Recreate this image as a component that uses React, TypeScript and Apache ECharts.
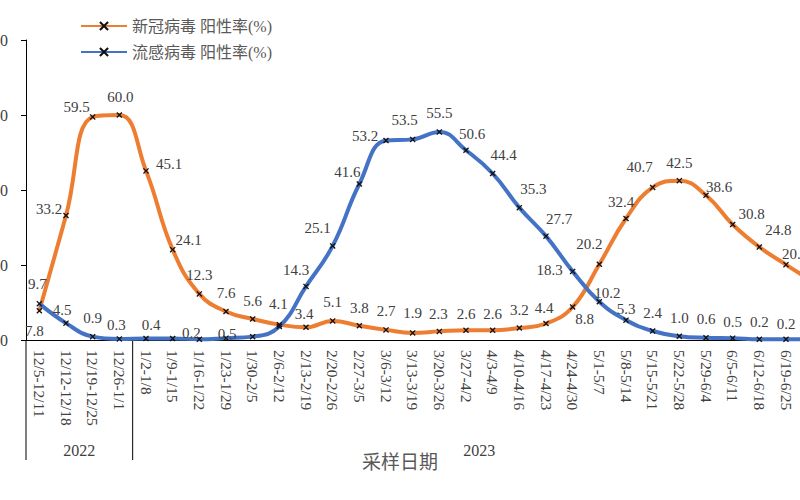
import React, { useEffect, useRef } from "react";
import * as echarts from "echarts";

const categories = [
  "12/5-12/11", "12/12-12/18", "12/19-12/25", "12/26-1/1",
  "1/2-1/8", "1/9-1/15", "1/16-1/22", "1/23-1/29", "1/30-2/5",
  "2/6-2/12", "2/13-2/19", "2/20-2/26", "2/27-3/5", "3/6-3/12",
  "3/13-3/19", "3/20-3/26", "3/27-4/2", "4/3-4/9", "4/10-4/16",
  "4/17-4/23", "4/24-4/30", "5/1-5/7", "5/8-5/14", "5/15-5/21",
  "5/22-5/28", "5/29-6/4", "6/5-6/11", "6/12-6/18", "6/19-6/25", "6/26-7/2",
];

const covidRate = [
  7.8, 33.2, 59.5, 60.0, 45.1, 24.1, 12.3, 7.6, 5.6, 4.1,
  3.4, 5.1, 3.8, 2.7, 1.9, 2.3, 2.6, 2.6, 3.2, 4.4,
  8.8, 20.2, 32.4, 40.7, 42.5, 38.6, 30.8, 24.8, 20.1, 15.5,
];

const fluRate = [
  9.7, 4.5, 0.9, 0.3, 0.4, 0.4, 0.2, 0.5, 0.9, 3.6,
  14.3, 25.1, 41.6, 53.2, 53.5, 55.5, 50.6, 44.4, 35.3, 27.7,
  18.3, 10.2, 5.3, 2.4, 1.0, 0.6, 0.5, 0.2, 0.2, 0.2,
];

const yTicks = [0, 20, 40, 60, 80];

const yearGroups = [
  { label: "2022", from: 0, to: 3 },
  { label: "2023", from: 4, to: 29 },
];

const seriesNames = ["新冠病毒 阳性率(%)", "流感病毒 阳性率(%)"];
const xAxisTitle = "采样日期";

// label placement tweaks (layout only), null = label hidden
const covidLabelOffsets: ([number, number] | null)[] = [
  [-5, 39], [-17, 12], [-16, 9], [1, 0], [23, 12], [16, 9], [0, 0], [0, 0], [0, 0], [-1, -2],
  [-2, 5], [0, 0], [0, 1], [0, 0], [0, -1], [-1, 1], [0, 2], [0, 2], [0, 0], [-2, 3],
  [12, 30], [-10, -2], [-5, 2], [-13, -2], [0, 1], [13, 10], [19, 8], [19, 1], [9, 8], null,
];
const fluLabelOffsets: ([number, number] | null)[] = [
  [-2, -1], [-4, 5], [0, 0], [-3, 5], [5, 5], null, [-8, 12], [1, 14], null, null,
  [-10, 2], [-15, 1], [-12, 6], [-21, 14], [-8, -1], [0, 0], [6, 2], [11, 0], [14, 0], [13, 1],
  [-23, 17], [8, 10], [0, 7], [0, 0], [0, 0], [0, 0], [0, 2], [0, 1], [0, 3], null,
];

const SERIF = "'Liberation Serif', 'Noto Sans CJK SC', serif";
const CROSS = "path://M0,1.5L1.5,0L5,3.5L8.5,0L10,1.5L6.5,5L10,8.5L8.5,10L5,6.5L1.5,10L0,8.5L3.5,5Z";

function buildData(values: number[], offsets: ([number, number] | null)[]) {
  return values.map((v, i) => {
    const off = offsets[i];
    return {
      value: v,
      label: off ? { show: true, offset: off } : { show: false },
    };
  });
}

export default function App() {
  const ref = useRef<HTMLDivElement>(null);

  useEffect(() => {
    if (!ref.current) return;
    const chart = echarts.init(ref.current, undefined, { renderer: "svg" });

    const lineSeries = (name: string, values: number[], offsets: any[], color: string) => ({
      name,
      type: "line",
      smooth: 0.45,
      data: buildData(values, offsets),
      symbol: CROSS,
      symbolSize: 6,
      showAllSymbol: true,
      lineStyle: { color, width: 4 },
      itemStyle: { color: "#111", borderWidth: 0 },
      label: {
        show: true,
        position: "top",
        distance: 8,
        fontFamily: SERIF,
        fontSize: 15,
        color: "#404040",
        formatter: (p: any) => Number(p.value).toFixed(1),
      },
      emphasis: { disabled: true },
    });

    chart.setOption({
      animation: false,
      backgroundColor: "#ffffff",
      legend: {
        orient: "vertical",
        left: 75,
        top: 13,
        itemWidth: 46,
        itemHeight: 12,
        itemGap: 10,
        textStyle: { fontFamily: SERIF, fontSize: 16, color: "#595959" },
        data: seriesNames,
      },
      grid: {
        left: 26,
        top: 40,
        width: 800,
        height: 300,
        containLabel: false,
        outerBoundsMode: "none",
      },
      xAxis: {
        type: "category",
        data: categories,
        boundaryGap: true,
        axisLine: { lineStyle: { color: "#000", width: 1 } },
        axisTick: { show: false },
        axisLabel: {
          rotate: -90,
          interval: 0,
          margin: 10,
          fontFamily: SERIF,
          fontSize: 15.5,
          color: "#404040",
        },
      },
      yAxis: {
        type: "value",
        min: yTicks[0],
        max: yTicks[yTicks.length - 1],
        interval: yTicks[1] - yTicks[0],
        splitLine: { show: false },
        axisLine: { show: true, lineStyle: { color: "#000", width: 1 } },
        axisTick: { show: true, length: 5, lineStyle: { color: "#000" } },
        axisLabel: {
          margin: 18,
          fontFamily: SERIF,
          fontSize: 16,
          color: "#404040",
        },
      },
      series: [
        lineSeries(seriesNames[0], covidRate, covidLabelOffsets, "#ED7D31"),
        lineSeries(seriesNames[1], fluRate, fluLabelOffsets, "#4472C4"),
      ],
    });

    // year group separators and labels under the category axis
    const px = (i: number) => chart.convertToPixel({ xAxisIndex: 0 }, categories[i]) as number;
    const step = px(1) - px(0);
    const axisY = chart.convertToPixel({ yAxisIndex: 0 }, 0) as number;
    const graphics: any[] = [];
    const bounds: number[] = [];
    yearGroups.forEach((g, gi) => {
      const x0 = px(g.from) - step / 2;
      const x1 = px(g.to) + step / 2;
      if (gi === 0) bounds.push(x0);
      bounds.push(x1);
      graphics.push({
        type: "text",
        x: (x0 + x1) / 2,
        y: axisY + 110,
        style: {
          text: g.label,
          fontFamily: SERIF,
          fontSize: 16,
          fill: "#404040",
          textAlign: "center",
          textVerticalAlign: "middle",
        },
        silent: true,
      });
    });
    bounds.forEach((bx, i) => {
      if (i === bounds.length - 1) return;
      graphics.push({
        type: "line",
        shape: { x1: bx, y1: axisY, x2: bx, y2: axisY + 120 },
        style: { stroke: "#000", lineWidth: 1 },
        silent: true,
      });
    });
    graphics.push({
      type: "text",
      left: "center",
      top: axisY + 113,
      style: {
        text: xAxisTitle,
        fontFamily: SERIF,
        fontSize: 19,
        fill: "#595959",
      },
      silent: true,
    });
    chart.setOption({ graphic: graphics });

    return () => chart.dispose();
  }, []);

  return (
    <div
      ref={ref}
      style={{ position: "fixed", left: 0, top: 0, width: 800, height: 500, background: "#fff" }}
    />
  );
}
